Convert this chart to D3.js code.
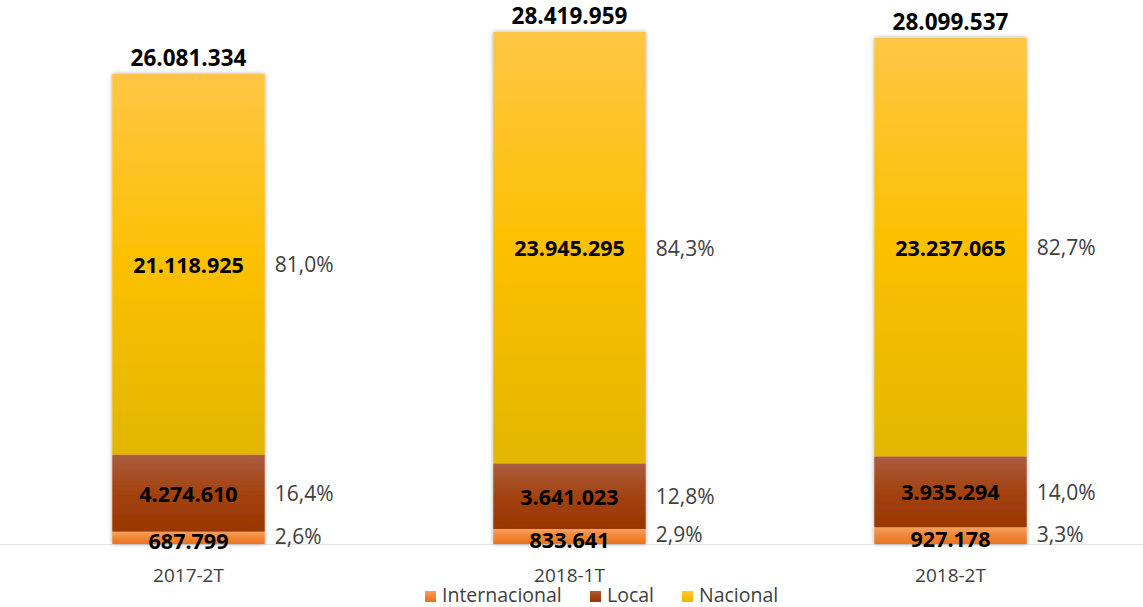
<!DOCTYPE html>
<html><head><meta charset="utf-8">
<script src="https://cdn.jsdelivr.net/npm/d3@7"></script>
<style>body{margin:0;background:#fff}svg{display:block}text{font-family:"Open Sans",sans-serif}</style>
</head><body><svg id="c" width="1143" height="607"></svg>
<script>
const categories = ["2017-2T", "2018-1T", "2018-2T"];
const seriesNames = ["Internacional", "Local", "Nacional"];
const internacional = [687799, 833641, 927178];
const local = [4274610, 3641023, 3935294];
const nacional = [21118925, 23945295, 23237065];
const totals = [26081334, 28419959, 28099537];
const pctInternacional = ["2,6%", "2,9%", "3,3%"];
const pctLocal = ["16,4%", "12,8%", "14,0%"];
const pctNacional = ["81,0%", "84,3%", "82,7%"];

const svg = d3.select("#c");
const W = 1143, baseY = 544;
const x = d3.scaleBand().domain(categories).range([-2, W - 2]).paddingInner(0.6).paddingOuter(0.3);
const y = d3.scaleLinear().domain([0, 30000000]).range([baseY, baseY - 540.6]);

const fmt = v => d3.format(",")(v).replace(/,/g, ".");

const defs = svg.append("defs");
const grads = {
  Internacional: ["#F7A15E", "#F28535", "#E8731F"],
  Local: ["#AB5D40", "#A2420F", "#993600"],
  Nacional: ["#FFC645", "#FCC000", "#E3B600"]
};
Object.entries(grads).forEach(([k, c]) => {
  const g = defs.append("linearGradient").attr("id", "g" + k).attr("x1", 0).attr("y1", 0).attr("x2", 0).attr("y2", 1);
  g.append("stop").attr("offset", 0).attr("stop-color", c[0]);
  g.append("stop").attr("offset", 0.5).attr("stop-color", c[1]);
  g.append("stop").attr("offset", 1).attr("stop-color", c[2]);
});
const f = defs.append("filter").attr("id", "sh").attr("x", "-10%").attr("y", "-5%").attr("width", "120%").attr("height", "110%");
f.append("feDropShadow").attr("dx", 0).attr("dy", 0).attr("stdDeviation", 2).attr("flood-color", "#000").attr("flood-opacity", 0.35);

// axis line
svg.append("line").attr("x1", 0).attr("x2", W).attr("y1", baseY + 0.5).attr("y2", baseY + 0.5)
  .attr("stroke", "#E6E6E6").attr("stroke-width", 1);

const rows = categories.map((c, i) => ({cat: c, Internacional: internacional[i], Local: local[i], Nacional: nacional[i]}));
const stack = d3.stack().keys(seriesNames)(rows);
const pcts = {Internacional: pctInternacional, Local: pctLocal, Nacional: pctNacional};

const layers = svg.append("g").attr("filter", "url(#sh)");
stack.forEach(layer => {
  layers.selectAll(null).data(layer).join("rect")
    .attr("x", d => x(d.data.cat))
    .attr("width", x.bandwidth())
    .attr("y", d => y(d[1]))
    .attr("height", d => y(d[0]) - y(d[1]))
    .attr("fill", `url(#g${layer.key})`);
});

stack.forEach(layer => {
  svg.selectAll(null).data(layer).join("text")
    .attr("x", d => x(d.data.cat) + x.bandwidth() / 2)
    .attr("y", d => (y(d[0]) + y(d[1])) / 2 + (layer.key === "Internacional" ? 3 : 0))
    .attr("text-anchor", "middle").attr("dominant-baseline", "central")
    .attr("font-weight", "bold").attr("font-size", 21.5).attr("fill", "#000")
    .text(d => fmt(d.data[layer.key]));
  svg.selectAll(null).data(layer).join("text")
    .attr("x", d => x(d.data.cat) + x.bandwidth() + 10)
    .attr("y", (d, i) => (y(d[0]) + y(d[1])) / 2 - (layer.key === "Internacional" ? 2 : 0))
    .attr("dominant-baseline", "central")
    .attr("font-size", 21).attr("fill", "#404040")
    .text((d, i) => pcts[layer.key][i]);
});

// totals
svg.selectAll(null).data(categories).join("text")
  .attr("x", c => x(c) + x.bandwidth() / 2)
  .attr("y", (c, i) => y(totals[i]) - 8)
  .attr("text-anchor", "middle")
  .attr("font-weight", "bold").attr("font-size", 22.5).attr("fill", "#000")
  .text((c, i) => fmt(totals[i]));

// category labels
svg.selectAll(null).data(categories).join("text")
  .attr("x", c => x(c) + x.bandwidth() / 2)
  .attr("y", 582)
  .attr("text-anchor", "middle").attr("font-size", 19).attr("fill", "#404040")
  .text(c => c);

// legend
const legItems = [{k: "Internacional", x: 425}, {k: "Local", x: 590}, {k: "Nacional", x: 682}];
const leg = svg.append("g");
legItems.forEach(it => {
  leg.append("rect").attr("x", it.x).attr("y", 591).attr("width", 11).attr("height", 11).attr("fill", `url(#g${it.k})`);
  leg.append("text").attr("x", it.x + 17).attr("y", 602).attr("font-size", 19.5).attr("fill", "#404040").text(it.k);
});
</script></body></html>
